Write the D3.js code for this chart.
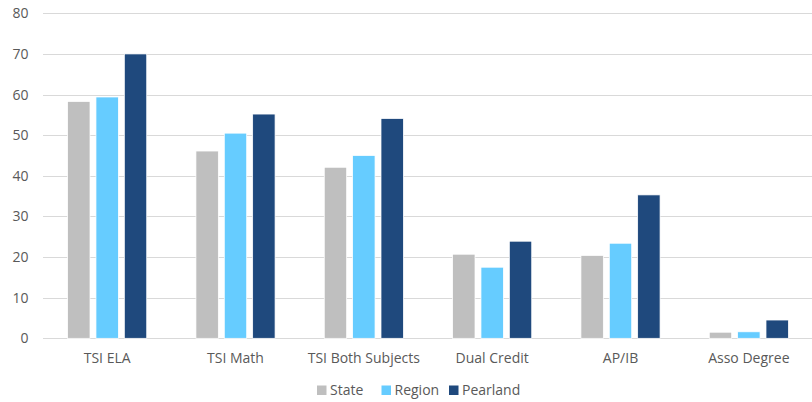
<!DOCTYPE html>
<html>
<head>
<meta charset="utf-8">
<script src="https://cdn.jsdelivr.net/npm/d3@7"></script>
<style>
  html, body { margin: 0; padding: 0; background: #fff; }
  text { font-family: "Open Sans", sans-serif; fill: #595959; }
</style>
</head>
<body>
<svg id="chart" width="812" height="402"></svg>
<script>
// Categories and series values (percent)
const categories = ["TSI ELA", "TSI Math", "TSI Both Subjects", "Dual Credit", "AP/IB", "Asso Degree"];
const seriesNames = ["State", "Region", "Pearland"];
const stateValues = [58.3, 46.1, 42.1, 20.7, 20.4, 1.5];
const regionValues = [59.4, 50.5, 45.0, 17.5, 23.4, 1.6];
const pearlandValues = [70.0, 55.2, 54.1, 23.9, 35.3, 4.5];
const yTicks = [0, 10, 20, 30, 40, 50, 60, 70, 80];
const colors = ["#BFBFBF", "#66CCFF", "#1F497D"];

const series = [stateValues, regionValues, pearlandValues];
const rows = categories.map((c, i) => ({
  category: c,
  values: seriesNames.map((s, j) => ({ key: s, value: series[j][i] }))
}));

const svg = d3.select("#chart");
const plotLeft = 43, plotRight = 813, plotTop = 13.3, plotBottom = 338.3;
const fontSize = 14;

const x0 = d3.scaleBand().domain(categories).range([plotLeft, plotRight]).paddingInner(0).paddingOuter(0);
const y = d3.scaleLinear().domain([0, 80]).range([plotBottom, plotTop]);

// inner band for grouped bars: group spans ~79px in a 128px category
const groupPad = 24.6;
const x1 = d3.scaleBand().domain(seriesNames)
  .range([groupPad, x0.bandwidth() - groupPad])
  .paddingInner(0.21);
const color = d3.scaleOrdinal().domain(seriesNames).range(colors);

// gridlines
svg.append("g")
  .selectAll("line")
  .data(yTicks)
  .join("line")
  .attr("x1", plotLeft).attr("x2", 812)
  .attr("y1", d => Math.round(y(d)) + 0.5).attr("y2", d => Math.round(y(d)) + 0.5)
  .attr("stroke", "#d9d9d9").attr("stroke-width", 1);

// y axis labels
const yAxis = d3.axisLeft(y).tickValues(yTicks).tickSize(0).tickPadding(0);
const yg = svg.append("g").attr("transform", `translate(28.5,0)`).call(yAxis);
yg.select(".domain").remove();
yg.selectAll("text").attr("font-size", fontSize).attr("fill", "#595959")
  .style("font-family", '"Open Sans", sans-serif');

// bars
svg.append("g")
  .selectAll("g")
  .data(rows)
  .join("g")
  .attr("transform", d => `translate(${x0(d.category)},0)`)
  .selectAll("rect")
  .data(d => d.values)
  .join("rect")
  .attr("x", d => x1(d.key))
  .attr("y", d => y(d.value))
  .attr("width", x1.bandwidth())
  .attr("height", d => y(0) - y(d.value))
  .attr("fill", d => color(d.key))
  .attr("stroke", "#ffffff")
  .attr("stroke-width", 0.75);

// x axis labels
const xAxis = d3.axisBottom(x0).tickSize(0).tickPadding(0);
const xg = svg.append("g").attr("transform", `translate(0,${plotBottom + 15})`).call(xAxis);
xg.select(".domain").remove();
xg.selectAll("text").attr("font-size", fontSize).attr("fill", "#595959")
  .style("font-family", '"Open Sans", sans-serif');

// legend
const legendX = [317, 381.5, 449];
const legend = svg.append("g")
  .selectAll("g")
  .data(seriesNames)
  .join("g")
  .attr("transform", (d, i) => `translate(${legendX[i]},385.5)`);
legend.append("rect").attr("width", 9.5).attr("height", 9.5).attr("fill", d => color(d));
legend.append("text").attr("x", 13).attr("y", 9.8).attr("font-size", fontSize).text(d => d);
</script>
</body>
</html>
